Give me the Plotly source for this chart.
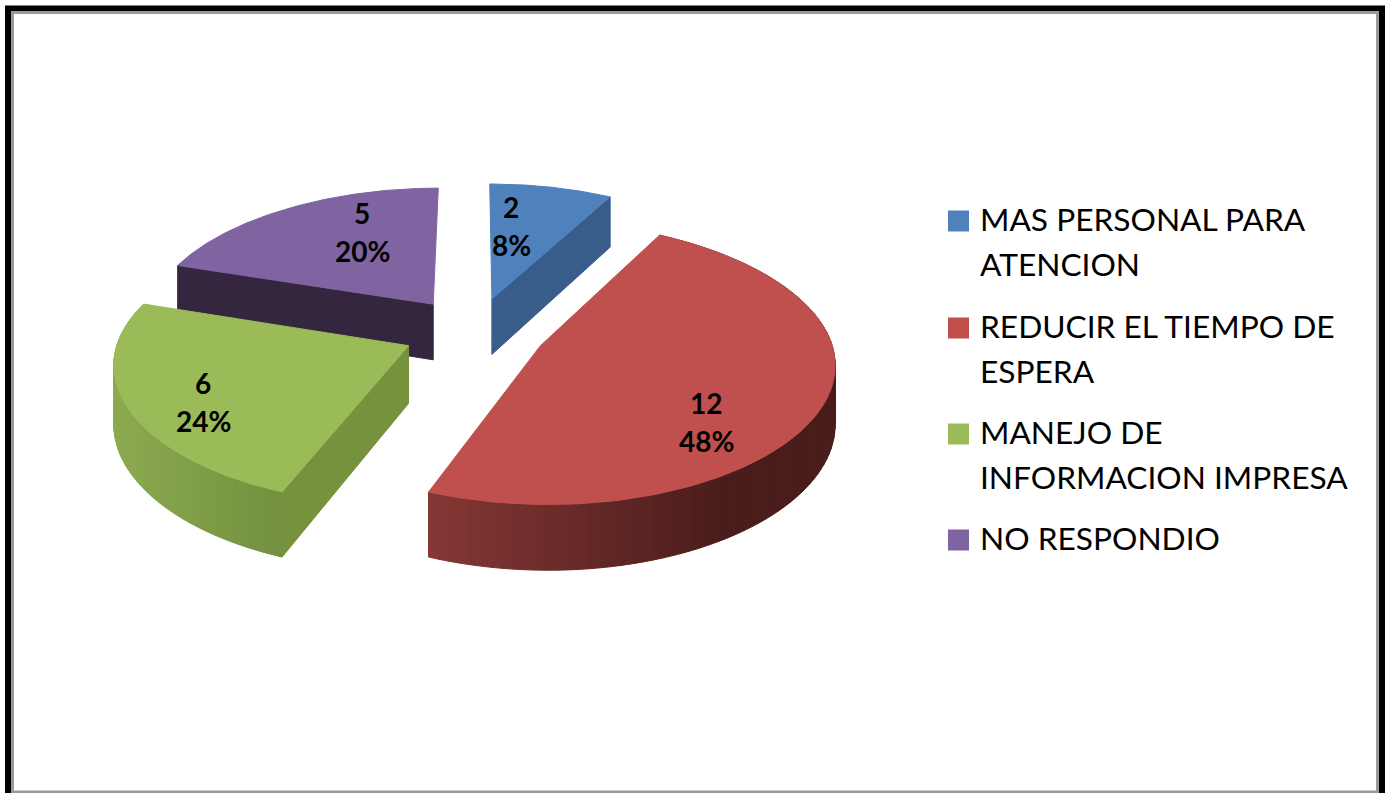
import math
import plotly.graph_objects as go

# ---- data ----
categories = ["MAS PERSONAL PARA ATENCION", "REDUCIR EL TIEMPO DE ESPERA",
              "MANEJO DE INFORMACION IMPRESA", "NO RESPONDIO"]
legend_lines = [["MAS PERSONAL PARA", "ATENCION"], ["REDUCIR EL TIEMPO DE", "ESPERA"],
                ["MANEJO DE", "INFORMACION IMPRESA"], ["NO RESPONDIO"]]
values = [2, 12, 6, 5]

# ---- styles ----
top_colors = ["#4F81BD", "#C0504D", "#9BBB59", "#8064A2"]
cut_colors = ["#385D8A", None, "#76923C", "#35263F"]
cut_edge = ["end", None, "start", "start"]
rim_from = [None, (0x85, 0x37, 0x34), (0x8C, 0xAA, 0x50), None]   # colour at the left of the rim
rim_to = [None, (0x4A, 0x1D, 0x1C), (0x72, 0x8F, 0x3E), None]     # colour at the right of the rim
rim_span = [None, (428, 720), (115, 285), None]
draw_order = [3, 0, 2, 1]
label_xy = [(511, 207, 245), (706, 403, 441), (203, 383, 421), (362, 213, 251)]
legend_y = [(221, 219, 264), (328, 326, 371), (434, 432, 477), (540, 538, None)]

# ---- projection of the tilted, exploded disc ----
CX, CY, A, B, K, KX, H, EXPLODE = 474.5, 331, 288, 136, 0.12, 0.12, 57, 0.25


def project(ox, oy, theta, r=1.0, drop=0.0):
    X = ox + r * math.sin(theta)
    Y = oy + r * math.cos(theta)
    f = 1 / (1 + K * Y)
    return CX + A * X * (1 - KX * Y), CY - B * Y * f + drop * f


def steps(a0, a1, n):
    return [a0 + (a1 - a0) * i / n for i in range(n + 1)]


total = sum(values)
fig = go.Figure()


def poly(pts, color):
    fig.add_trace(go.Scatter(
        x=[p[0] for p in pts] + [pts[0][0]], y=[p[1] for p in pts] + [pts[0][1]],
        mode="lines", fill="toself", fillcolor=color, line=dict(color=color, width=1),
        hoverinfo="skip", showlegend=False))


starts = []
acc = 0
for v in values:
    starts.append(acc)
    acc += v

for i in draw_order:
    a0 = 2 * math.pi * starts[i] / total
    a1 = 2 * math.pi * (starts[i] + values[i]) / total
    mid = (a0 + a1) / 2
    ox, oy = EXPLODE * math.sin(mid), EXPLODE * math.cos(mid)
    if cut_edge[i]:
        edge = a1 if cut_edge[i] == "end" else a0
        poly([project(ox, oy, 0, 0), project(ox, oy, edge), project(ox, oy, edge, 1, H),
              project(ox, oy, 0, 0, H)], cut_colors[i])
    if rim_from[i]:
        arc = steps(a0, a1, 90)
        x0, x1 = rim_span[i]
        for t0, t1 in zip(arc[:-1], arc[1:]):
            p = [project(ox, oy, t0), project(ox, oy, t1), project(ox, oy, t1, 1, H), project(ox, oy, t0, 1, H)]
            s = min(1, max(0, ((p[0][0] + p[1][0]) / 2 - x0) / (x1 - x0)))
            c = [round(u + (w - u) * s) for u, w in zip(rim_from[i], rim_to[i])]
            poly(p, f"rgb({c[0]},{c[1]},{c[2]})")
    poly([project(ox, oy, 0, 0)] + [project(ox, oy, t) for t in steps(a0, a1, 120)], top_colors[i])

# legend swatches
for i, c in enumerate(top_colors):
    fig.add_trace(go.Scatter(x=[958.5], y=[legend_y[i][0]], mode="markers", name=categories[i],
                             marker=dict(symbol="square", size=21, color=c), showlegend=False,
                             hovertext=categories[i], hoverinfo="text"))

ann = []
for i, lines in enumerate(legend_lines):
    for line, y in zip(lines, legend_y[i][1:]):
        ann.append(dict(x=977.5, y=y, text=line, xanchor="left", yanchor="middle", showarrow=False,
                        font=dict(family="Lato", size=31.7, color="#000000")))
for i, v in enumerate(values):
    x, y1, y2 = label_xy[i]
    for txt, y in ((str(v), y1), (f"{round(100 * v / total)}%", y2)):
        ann.append(dict(x=x, y=y, text=txt, xanchor="center", yanchor="middle", showarrow=False,
                        font=dict(family="Lato", size=28, color="#000000", weight="bold")))

shapes = [
    dict(type="rect", x0=8, y0=8.5, x1=1382, y1=797, line=dict(color="#000000", width=6), layer="below"),
    dict(type="rect", x0=12.5, y0=12.5, x1=1377.5, y1=792, line=dict(color="#9A9A9A", width=3), layer="below"),
]

fig.update_layout(
    width=1390, height=793, margin=dict(l=0, r=0, t=0, b=0),
    paper_bgcolor="#FFFFFF", plot_bgcolor="#FFFFFF", showlegend=False,
    xaxis=dict(range=[0, 1390], visible=False, fixedrange=True),
    yaxis=dict(range=[793, 0], visible=False, fixedrange=True),
    annotations=ann, shapes=shapes,
)
fig.write_html("out.html", config={"displayModeBar": False},
               post_script="document.body.style.margin='0';document.body.style.overflow='hidden';")
